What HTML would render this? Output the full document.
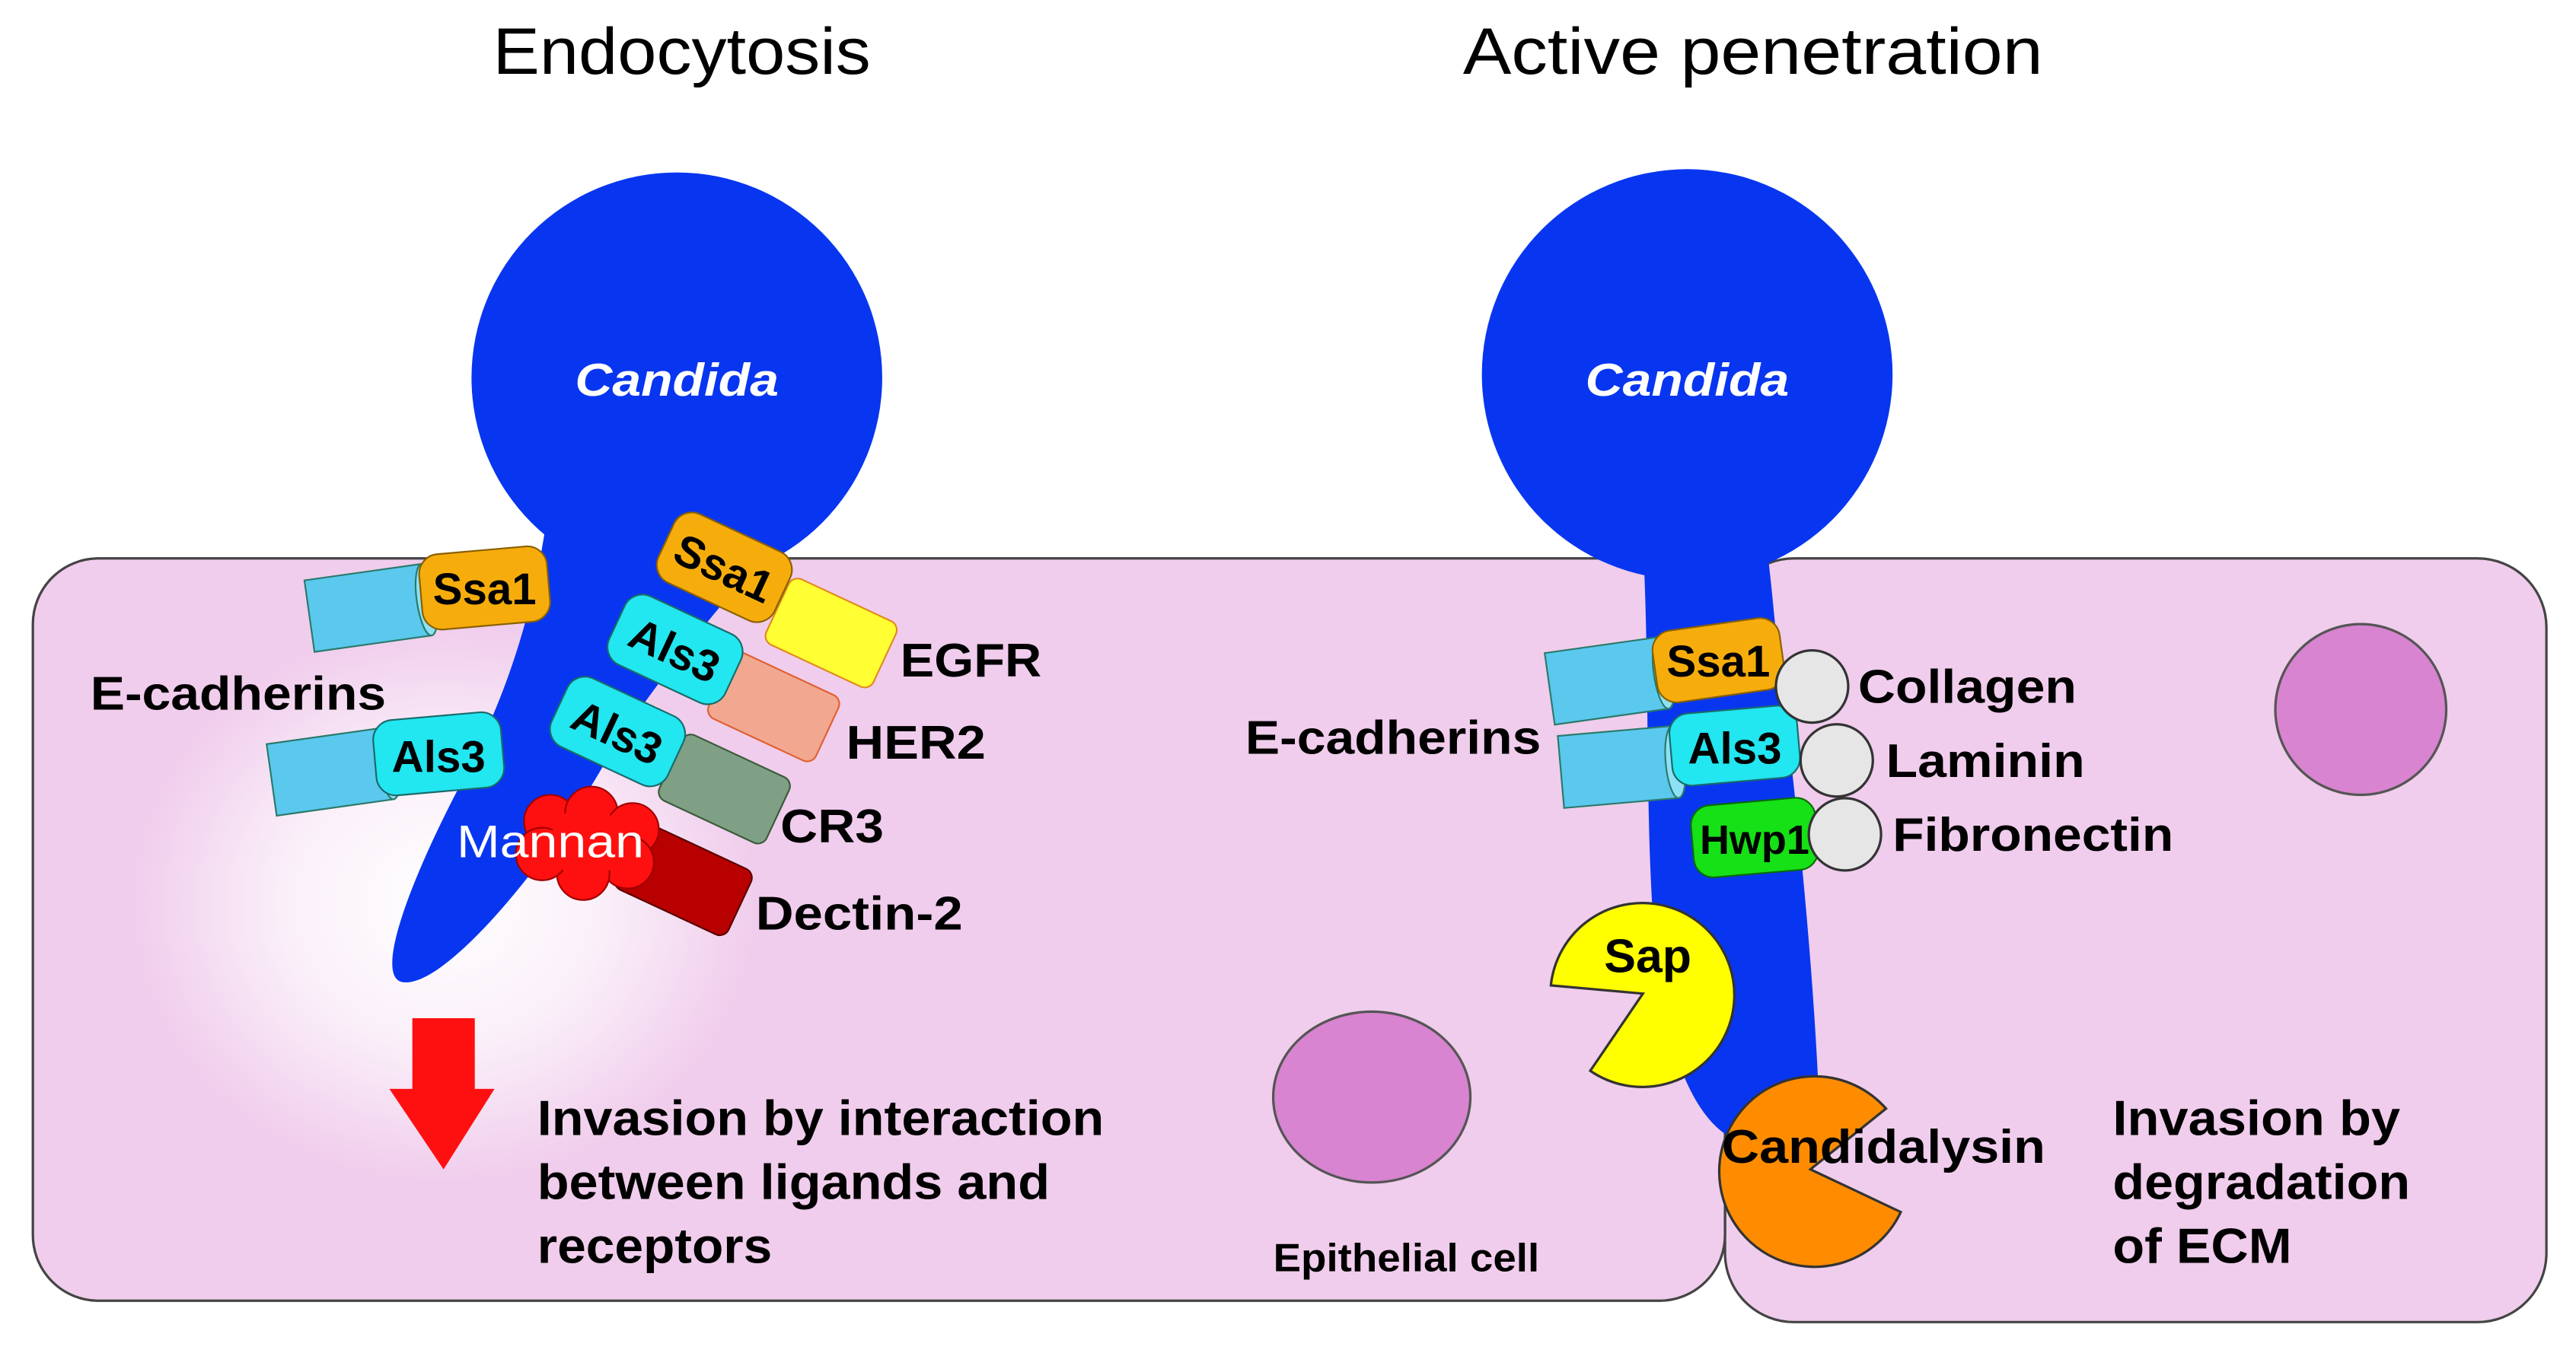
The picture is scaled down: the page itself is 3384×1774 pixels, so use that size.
<!DOCTYPE html>
<html><head><meta charset="utf-8"><style>
html,body{margin:0;padding:0;background:#fff;}
svg{display:block;}
text{font-family:"Liberation Sans",sans-serif;}
</style></head><body>
<svg width="3384" height="1774" viewBox="0 0 1568 822" xmlns="http://www.w3.org/2000/svg">
<defs>
<radialGradient id="glow" cx="0.5" cy="0.5" r="0.5">
<stop offset="0" stop-color="#fff" stop-opacity="1"/>
<stop offset="0.5" stop-color="#fff" stop-opacity="0.7"/>
<stop offset="1" stop-color="#fff" stop-opacity="0"/>
</radialGradient>
</defs>
<rect width="1568" height="822" fill="#fff"/>
<text x="415" y="45" font-size="40" text-anchor="middle" textLength="230" lengthAdjust="spacingAndGlyphs">Endocytosis</text>
<text x="1067" y="45" font-size="40" text-anchor="middle" textLength="353" lengthAdjust="spacingAndGlyphs">Active penetration</text>

<!-- cells -->
<rect x="1050" y="340" width="500" height="465" rx="42" fill="#f0cdec" stroke="#444" stroke-width="1.5"/>
<rect x="20" y="340" width="1030" height="452" rx="40" fill="#f0cdec" stroke="#444" stroke-width="1.5"/>
<ellipse cx="270" cy="550" rx="190" ry="170" fill="url(#glow)"/>

<!-- nuclei -->
<ellipse cx="835" cy="668" rx="60" ry="52" fill="#d884d0" stroke="#555" stroke-width="1.5"/>
<ellipse cx="1437" cy="432" rx="52" ry="52" fill="#d884d0" stroke="#555" stroke-width="1.5"/>

<!-- Left candida -->
<g fill="#0836f0">
<circle cx="412" cy="230" r="125"/>
<path d="M335,300 C325,380 305,430 278,482 C248,540 228,595 245,598 C270,602 330,530 365,470 C400,410 440,370 470,330 L412,230 Z"/>
</g>
<text x="412" y="241" font-size="28" font-weight="bold" font-style="italic" fill="#fff" text-anchor="middle" textLength="124" lengthAdjust="spacingAndGlyphs">Candida</text>

<!-- Right candida -->
<g fill="#0836f0">
<circle cx="1027" cy="228" r="125"/>
<path d="M1000,330 C1005,420 1000,520 1010,600 C1020,660 1040,690 1060,695 L1108,690 C1105,600 1095,500 1085,420 C1080,380 1078,350 1075,330 Z"/>
</g>
<text x="1027" y="241" font-size="28" font-weight="bold" font-style="italic" fill="#fff" text-anchor="middle" textLength="124" lengthAdjust="spacingAndGlyphs">Candida</text>

<!-- Left E-cadherins -->
<g transform="rotate(-8 225 370)">
<rect x="188" y="348" width="72" height="44" fill="#5bc8ee" stroke="#2a7a6a"/>
<ellipse cx="260" cy="370" rx="6" ry="22" fill="#8ee0f5" stroke="#2a7a6a"/>
</g>
<rect x="256" y="335" width="78" height="46" rx="12" fill="#f6ad0c" stroke="#8a6000" transform="rotate(-5 295 358)"/>
<text x="295" y="368" font-size="27" font-weight="bold" text-anchor="middle">Ssa1</text>
<g transform="rotate(-8 200 470)">
<rect x="165" y="448" width="72" height="44" fill="#5bc8ee" stroke="#2a7a6a"/>
<ellipse cx="237" cy="470" rx="6" ry="22" fill="#8ee0f5" stroke="#2a7a6a"/>
</g>
<rect x="228" y="436" width="78" height="46" rx="12" fill="#22e6f0" stroke="#1a6a6a" transform="rotate(-5 267 459)"/>
<text x="267" y="470" font-size="27" font-weight="bold" text-anchor="middle">Als3</text>
<text x="55" y="432" font-size="29" font-weight="bold" textLength="180" lengthAdjust="spacingAndGlyphs">E-cadherins</text>

<!-- Left receptors -->
<g transform="rotate(25 505 385)">
<rect x="470" y="363" width="72" height="44" rx="6" fill="#ffff33" stroke="#e08a20"/>
</g>
<g transform="rotate(25 440 345)"><rect x="402" y="322" width="78" height="46" rx="12" fill="#f6ad0c" stroke="#8a6000"/>
<text x="441" y="355" font-size="27" font-weight="bold" text-anchor="middle">Ssa1</text></g>
<g transform="rotate(25 470 430)">
<rect x="435" y="408" width="72" height="44" rx="6" fill="#f2a890" stroke="#e06030"/>
</g>
<g transform="rotate(25 410 395)"><rect x="372" y="372" width="78" height="46" rx="12" fill="#22e6f0" stroke="#1a6a6a"/>
<text x="411" y="405" font-size="27" font-weight="bold" text-anchor="middle">Als3</text></g>
<g transform="rotate(25 440 480)">
<rect x="405" y="458" width="72" height="44" rx="6" fill="#7fa084" stroke="#3a5a3a"/>
</g>
<g transform="rotate(25 375 445)"><rect x="337" y="422" width="78" height="46" rx="12" fill="#22e6f0" stroke="#1a6a6a"/>
<text x="376" y="455" font-size="27" font-weight="bold" text-anchor="middle">Als3</text></g>
<g transform="rotate(25 415 535)">
<rect x="378" y="513" width="76" height="44" rx="6" fill="#b80000" stroke="#5a0000"/>
</g>
<g fill="#ff1010" stroke="#a00000">
<circle cx="335" cy="500" r="16"/><circle cx="360" cy="495" r="16"/><circle cx="385" cy="505" r="16"/>
<circle cx="382" cy="525" r="16"/><circle cx="355" cy="532" r="16"/><circle cx="330" cy="520" r="16"/>
</g>
<g fill="#ff1010"><circle cx="357" cy="513" r="22"/></g>
<text x="335" y="522" font-size="28" fill="#fff" text-anchor="middle" textLength="114" lengthAdjust="spacingAndGlyphs">Mannan</text>
<text x="548" y="412" font-size="29" font-weight="bold" textLength="86" lengthAdjust="spacingAndGlyphs">EGFR</text>
<text x="515" y="462" font-size="29" font-weight="bold" textLength="85" lengthAdjust="spacingAndGlyphs">HER2</text>
<text x="475" y="513" font-size="29" font-weight="bold" textLength="63" lengthAdjust="spacingAndGlyphs">CR3</text>
<text x="460" y="566" font-size="29" font-weight="bold" textLength="126" lengthAdjust="spacingAndGlyphs">Dectin-2</text>

<!-- red arrow -->
<path d="M251,620 H289 V663 H301 L270,712 L237,663 H251 Z" fill="#ff1010"/>
<text x="327" y="691" font-size="30" font-weight="bold" textLength="345" lengthAdjust="spacingAndGlyphs">Invasion by interaction</text>
<text x="327" y="730" font-size="30" font-weight="bold" textLength="312" lengthAdjust="spacingAndGlyphs">between ligands and</text>
<text x="327" y="769" font-size="30" font-weight="bold" textLength="143" lengthAdjust="spacingAndGlyphs">receptors</text>
<text x="775" y="774" font-size="24" font-weight="bold" textLength="162" lengthAdjust="spacingAndGlyphs">Epithelial cell</text>

<!-- Right side -->
<g transform="rotate(-8 975 415)">
<rect x="943" y="393" width="70" height="44" fill="#5bc8ee" stroke="#2a7a6a"/>
<ellipse cx="1013" cy="415" rx="6" ry="22" fill="#8ee0f5" stroke="#2a7a6a"/>
</g>
<rect x="1007" y="380" width="78" height="44" rx="12" fill="#f6ad0c" stroke="#8a6000" transform="rotate(-8 1046 402)"/>
<text x="1046" y="412" font-size="27" font-weight="bold" text-anchor="middle">Ssa1</text>
<g transform="rotate(-5 985 467)">
<rect x="950" y="445" width="70" height="44" fill="#5bc8ee" stroke="#2a7a6a"/>
<ellipse cx="1020" cy="467" rx="6" ry="22" fill="#8ee0f5" stroke="#2a7a6a"/>
</g>
<rect x="1017" y="432" width="78" height="44" rx="12" fill="#22e6f0" stroke="#1a6a6a" transform="rotate(-5 1056 455)"/>
<text x="1056" y="465" font-size="27" font-weight="bold" text-anchor="middle">Als3</text>
<rect x="1030" y="488" width="76" height="44" rx="12" fill="#16e016" stroke="#0a6a0a" transform="rotate(-5 1068 510)"/>
<text x="1068" y="520" font-size="25" font-weight="bold" text-anchor="middle">Hwp1</text>
<g fill="#e6e6e6" stroke="#333" stroke-width="1.5">
<circle cx="1103" cy="418" r="22"/><circle cx="1118" cy="463" r="22"/><circle cx="1123" cy="508" r="22"/>
</g>
<text x="758" y="459" font-size="29" font-weight="bold" textLength="180" lengthAdjust="spacingAndGlyphs">E-cadherins</text>
<text x="1131" y="428" font-size="29" font-weight="bold" textLength="133" lengthAdjust="spacingAndGlyphs">Collagen</text>
<text x="1148" y="473" font-size="29" font-weight="bold" textLength="121" lengthAdjust="spacingAndGlyphs">Laminin</text>
<text x="1152" y="518" font-size="29" font-weight="bold" textLength="171" lengthAdjust="spacingAndGlyphs">Fibronectin</text>

<!-- Sap -->
<path d="M1000,605 L944,600 A56,56 0 1,1 968,652 Z" fill="#ffff00" stroke="#333" stroke-width="1.5"/>
<text x="1003" y="592" font-size="29" font-weight="bold" text-anchor="middle">Sap</text>
<!-- Candidalysin -->
<path d="M1102,712 L1157,738 A58,58 0 1,1 1148,675 Z" fill="#ff8c00" stroke="#333" stroke-width="1.5"/>
<text x="1048" y="708" font-size="29" font-weight="bold" textLength="197" lengthAdjust="spacingAndGlyphs">Candidalysin</text>

<text x="1286" y="691" font-size="30" font-weight="bold" textLength="175" lengthAdjust="spacingAndGlyphs">Invasion by</text>
<text x="1286" y="730" font-size="30" font-weight="bold" textLength="181" lengthAdjust="spacingAndGlyphs">degradation</text>
<text x="1286" y="769" font-size="30" font-weight="bold" textLength="109" lengthAdjust="spacingAndGlyphs">of ECM</text>
</svg>
</body></html>
